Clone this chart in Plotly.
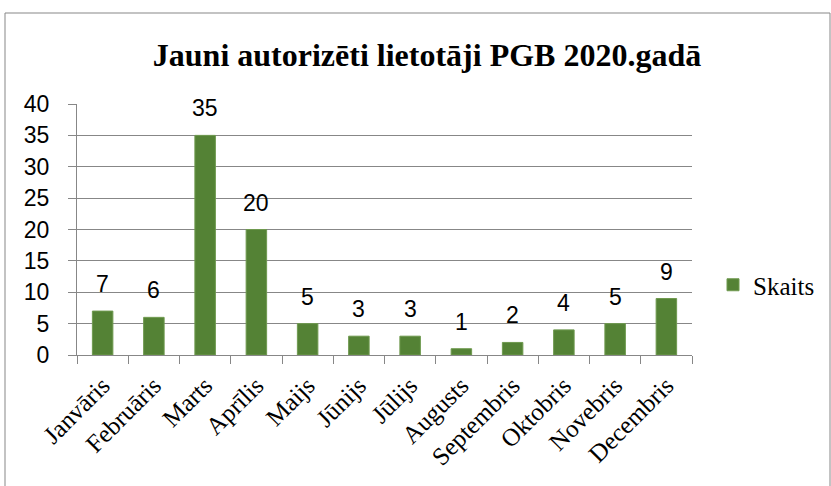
import plotly.graph_objects as go

months = ["Janvāris", "Februāris", "Marts", "Aprīlis", "Maijs", "Jūnijs", "Jūlijs",
          "Augusts", "Septembris", "Oktobris", "Novebris", "Decembris"]
skaits = [7, 6, 35, 20, 5, 3, 3, 1, 2, 4, 5, 9]
y_ticks = [0, 5, 10, 15, 20, 25, 30, 35, 40]

W, H = 831, 486
L, R, T, B = 77, 139, 104, 131
pw, ph = W - L - R, H - T - B

def px_x(px):
    return (px - L) / pw

def px_y(py):
    return (H - B - py) / ph

fig = go.Figure()
fig.add_trace(go.Bar(
    x=months, y=skaits, name="Skaits",
    marker=dict(color="#548235", line=dict(color="#6f9a4f", width=1)),
    width=0.4,
))

for m, v in zip(months, skaits):
    fig.add_annotation(x=m, y=v, text=str(v), showarrow=False,
                       xref="x", yref="y", yanchor="bottom", yshift=12,
                       font=dict(family="Liberation Sans, Arial", size=23, color="#000000"))

grey = "#878787"
fig.update_layout(
    width=W, height=H,
    margin=dict(l=L, r=R, t=T, b=B, autoexpand=False),
    paper_bgcolor="white", plot_bgcolor="white",
    title=dict(text="<b>Jauni autorizēti lietotāji PGB 2020.gadā</b>",
               font=dict(family="Liberation Serif, Times New Roman", size=32, color="#000000"),
               x=427 / W, xanchor="center", xref="container",
               y=1 - 55 / H, yanchor="middle", yref="container"),
    showlegend=True,
    legend=dict(x=px_x(713), y=px_y(285), xanchor="left", yanchor="middle",
                font=dict(family="Liberation Serif, Times New Roman", size=25, color="#000000"),
                bgcolor="rgba(0,0,0,0)"),
)

fig.update_yaxes(
    range=[0, 40], tickvals=y_ticks, showgrid=True, gridcolor=grey, gridwidth=1,
    showline=True, linecolor=grey, linewidth=1, ticks="outside", ticklen=8, tickcolor=grey,
    zeroline=False, automargin=False, ticklabelstandoff=14,
    tickfont=dict(family="Liberation Sans, Arial", size=23, color="#000000"),
)
fig.update_xaxes(
    tickangle=-45, showline=True, linecolor=grey, linewidth=1,
    ticks="outside", ticklen=8, tickcolor=grey, tickson="boundaries",
    automargin=False, ticklabelstandoff=5,
    tickfont=dict(family="Liberation Serif, Times New Roman", size=25, color="#000000"),
    showgrid=False,
)

fig.add_shape(type="rect", xref="paper", yref="paper",
              x0=px_x(5), x1=px_x(830), y0=px_y(495), y1=px_y(13),
              line=dict(color=grey, width=1), fillcolor="rgba(0,0,0,0)", layer="below")

fig.write_html("out.html", config={"displayModeBar": False},
               post_script="document.body.style.margin='0';document.body.style.overflow='hidden';")
